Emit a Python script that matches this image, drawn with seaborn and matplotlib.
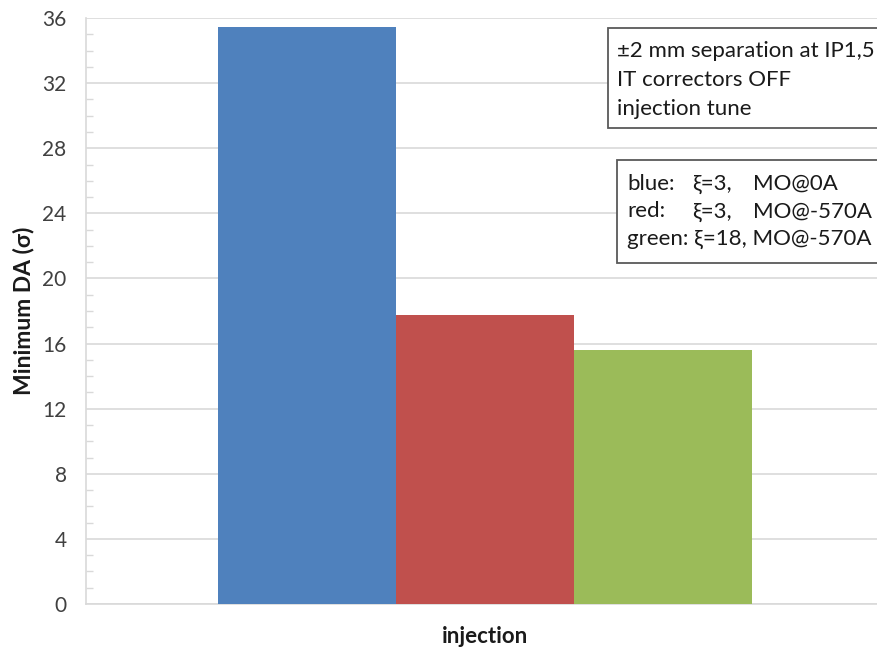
import matplotlib
matplotlib.use("Agg")
import matplotlib.pyplot as plt
from matplotlib.patches import Rectangle
from matplotlib.ticker import MultipleLocator
import seaborn as sns
import pandas as pd

categories = ["injection"]
series = ["blue", "red", "green"]
values = [35.45, 17.75, 15.6]
colors = ["#4F81BD", "#C0504D", "#9BBB59"]
yticks = [0, 4, 8, 12, 16, 20, 24, 28, 32, 36]

notes = ["±2 mm separation at IP1,5", "IT correctors OFF", "injection tune"]
legend_rows = [("blue:", "ξ=3,", "MO@0A"),
               ("red:", "ξ=3,", "MO@-570A")]
legend_last = "green: ξ=18, MO@-570A"

sns.set_theme(style="white")
plt.rcParams["font.family"] = ["Lato", "DejaVu Sans"]

df = pd.DataFrame({"case": categories * len(series), "series": series, "DA": values})

W, H = 877, 647
fig = plt.figure(figsize=(W / 100, H / 100), dpi=100)
ax = fig.add_axes([86 / W, 1 - 604 / H, 798 / W, 586 / H])

sns.barplot(data=df, x="case", y="DA", hue="series", hue_order=series,
            palette=colors, width=0.67, dodge=True, legend=False,
            saturation=1, ax=ax, zorder=3)
for p in ax.patches:
    p.set_edgecolor("none")

ax.set_ylim(0, 36)
ax.set_xlim(-0.5, 0.5)
ax.set_yticks(yticks)
ax.yaxis.set_minor_locator(MultipleLocator(1))
ax.grid(axis="y", which="major", color="#D9D9D9", linewidth=1.2, zorder=0)
ax.tick_params(axis="y", which="major", length=0, pad=14, labelsize=15, labelcolor="#404040")
ax.tick_params(axis="y", which="minor", direction="in", length=5, width=1, color="#D9D9D9", left=True)
ax.tick_params(axis="x", length=0, labelbottom=False)

for side in ["top", "right"]:
    ax.spines[side].set_visible(False)
for side in ["left", "bottom"]:
    ax.spines[side].set_color("#D9D9D9")
    ax.spines[side].set_linewidth(1.2)

ax.set_ylabel("Minimum DA (σ)", fontsize=16.5, fontweight="bold", labelpad=6, color="#1a1a1a")
ax.set_xlabel("injection", fontsize=16, fontweight="bold", labelpad=16, color="#1a1a1a")


def fx(px):
    return px / W


def fy(py):
    return 1 - py / H


def text_box(x0, y_top, y_bot):
    rect = Rectangle((fx(x0), fy(y_bot)), fx(W + 20 - x0), (y_bot - y_top) / H,
                     transform=fig.transFigure, facecolor="white",
                     edgecolor="#595959", linewidth=1.3, zorder=5, clip_on=False)
    fig.add_artist(rect)


def put(x, y, s):
    fig.text(fx(x), fy(y), s, fontsize=16, va="baseline", ha="left",
             color="#1a1a1a", zorder=6)


# conditions box
text_box(608, 28, 128)
for i, line in enumerate(notes):
    put(617, 57 + 29 * i, line)

# colour key box
text_box(617, 160, 263)
for i, (name, chroma, mo) in enumerate(legend_rows):
    y = 190 + 27.5 * i
    put(627, y, name)
    put(692, y, chroma)
    put(753, y, mo)
put(627, 245, legend_last)

fig.savefig("out.png", dpi=100)
